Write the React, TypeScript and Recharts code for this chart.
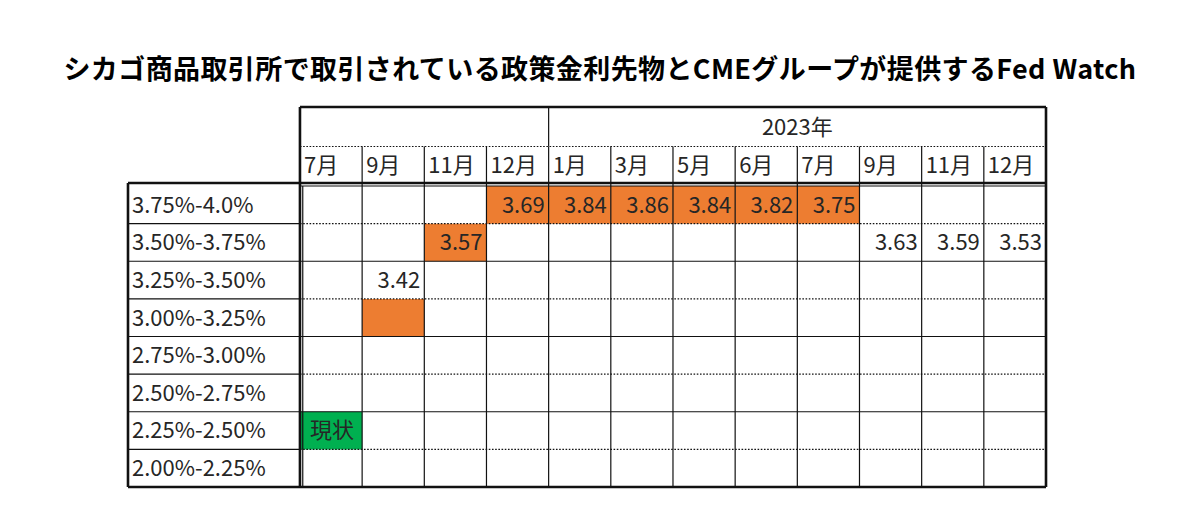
import { ScatterChart, Scatter, XAxis, YAxis, ReferenceArea, ReferenceLine } from "recharts";

const TITLE = "シカゴ商品取引所で取引されている政策金利先物とCMEグループが提供するFed Watch";
const YEAR_LABEL = "2023年";
const MONTHS = ["7月", "9月", "11月", "12月", "1月", "3月", "5月", "6月", "7月", "9月", "11月", "12月"];
const RANGES = [
  "3.75%-4.0%", "3.50%-3.75%", "3.25%-3.50%", "3.00%-3.25%",
  "2.75%-3.00%", "2.50%-2.75%", "2.25%-2.50%", "2.00%-2.25%",
];
// 各限月の予想金利と、その値が入っている行（RANGES の添字）
const RATES: (number | null)[] = [null, 3.42, 3.57, 3.69, 3.84, 3.86, 3.84, 3.82, 3.75, 3.63, 3.59, 3.53];
const RATE_ROWS: (number | null)[] = [null, 2, 1, 0, 0, 0, 0, 0, 0, 1, 1, 1];
// [row, col]
const ORANGE_CELLS: [number, number][] = [[0, 3], [0, 4], [0, 5], [0, 6], [0, 7], [0, 8], [1, 2], [3, 1]];
const CURRENT_CELL: [number, number] = [6, 0];
const CURRENT_LABEL = "現状";
const YEAR_START_COL = 4;

// layout (column / row units)
const LABEL_W = 2.766;
const HEAD_TOP = -2.1;
const MONTH_TOP = -1.05;
const HEAD_BOTTOM = -0.08;
const NCOL = MONTHS.length;
const NROW = RANGES.length;

const FONT = "'Noto Sans CJK JP', 'Noto Sans', sans-serif";
const TXT = "#262626";
const ORANGE = "#ED7D31";
const GREEN = "#00B050";

const hline = (k: string, y: number, x1: number, x2: number, w: number, dotted = false) => (
  <ReferenceLine key={k} segment={[{ x: x1, y }, { x: x2, y }]} stroke="#111" strokeWidth={w}
    strokeDasharray={dotted ? "1.6 1.6" : undefined} ifOverflow="visible" />
);
const vline = (k: string, x: number, y1: number, y2: number, w: number) => (
  <ReferenceLine key={k} segment={[{ x, y: y1 }, { x, y: y2 }]} stroke="#111" strokeWidth={w} ifOverflow="visible" />
);

const textShape = (anchor: "start" | "end" | "middle", dx: number) => (p: any) => (
  <text x={p.cx + dx} y={p.cy} dy="0.36em" textAnchor={anchor} fontFamily={FONT} fontSize={22} fill={TXT}>
    {p.payload.label}
  </text>
);

export default function App() {
  const monthData = MONTHS.map((m, i) => ({ x: i, y: (MONTH_TOP + HEAD_BOTTOM) / 2, label: m }));
  const rangeData = RANGES.map((r, i) => ({ x: -LABEL_W, y: i + 0.5, label: r }));
  const rateData = RATES.flatMap((v, i) =>
    v == null || RATE_ROWS[i] == null ? [] : [{ x: i + 1, y: (RATE_ROWS[i] as number) + 0.5, label: v.toFixed(2) }]);
  const yearData = [{ x: (YEAR_START_COL + NCOL) / 2, y: (HEAD_TOP + MONTH_TOP) / 2, label: YEAR_LABEL }];
  const currentData = [{ x: CURRENT_CELL[1], y: CURRENT_CELL[0] + 0.5, label: CURRENT_LABEL }];

  const lines = [];
  // data rows: alternate dotted / solid
  for (let r = 1; r < NROW; r++) lines.push(hline(`r${r}`, r, 0, NCOL, 1.2, r % 2 === 1));
  for (let r = 1; r < NROW; r++) lines.push(hline(`l${r}`, r, -LABEL_W, 0, 1.2));
  for (let c = 1; c < NCOL; c++) lines.push(vline(`c${c}`, c, MONTH_TOP, NROW, 1.2));
  lines.push(vline("year", YEAR_START_COL, HEAD_TOP, MONTH_TOP, 1.2));
  lines.push(hline("month", MONTH_TOP, 0, NCOL, 1.2, true));
  lines.push(hline("dataTop", 0, 0, NCOL, 1.2));
  lines.push(vline("dataLeft", 0.045, 0, NROW, 1.2));
  // outer frames
  lines.push(hline("top", HEAD_TOP, 0, NCOL, 2.6));
  lines.push(hline("headBottom", HEAD_BOTTOM, -LABEL_W, NCOL, 2.6));
  lines.push(hline("bottom", NROW, -LABEL_W, NCOL, 2.6));
  lines.push(vline("left", -LABEL_W, HEAD_BOTTOM, NROW, 2.6));
  lines.push(vline("mid", 0, HEAD_TOP, NROW, 2.6));
  lines.push(vline("right", NCOL, HEAD_TOP, NROW, 2.6));

  return (
    <div style={{ position: "absolute", left: 0, top: 0, width: 1200, height: 530, background: "#fff" }}>
      <div style={{
        position: "absolute", left: 0, top: 53, width: 1200, textAlign: "center", fontFamily: FONT,
        fontWeight: 700, fontSize: 27, letterSpacing: 0.4, lineHeight: "30px", color: "#000",
      }}>{TITLE}</div>
      <ScatterChart width={1200} height={530} margin={{ top: 107, right: 154, bottom: 43, left: 128 }}>
        <XAxis type="number" dataKey="x" domain={[-LABEL_W, NCOL]} allowDataOverflow hide />
        <YAxis type="number" dataKey="y" domain={[HEAD_TOP, NROW]} allowDataOverflow reversed hide />
        {ORANGE_CELLS.map(([r, c]) => (
          <ReferenceArea key={`o${r}-${c}`} x1={c} x2={c + 1} y1={r} y2={r + 1} fill={ORANGE} fillOpacity={1}
            stroke="none" ifOverflow="visible" />
        ))}
        <ReferenceArea x1={CURRENT_CELL[1]} x2={CURRENT_CELL[1] + 1} y1={CURRENT_CELL[0]} y2={CURRENT_CELL[0] + 1}
          fill={GREEN} fillOpacity={1} stroke="none" ifOverflow="visible" />
        {lines}
        <Scatter data={monthData} shape={textShape("start", 4)} isAnimationActive={false} />
        <Scatter data={rangeData} shape={textShape("start", 4)} isAnimationActive={false} />
        <Scatter data={rateData} shape={textShape("end", -4)} isAnimationActive={false} />
        <Scatter data={yearData} shape={textShape("middle", 0)} isAnimationActive={false} />
        <Scatter data={currentData} shape={textShape("start", 10)} isAnimationActive={false} />
      </ScatterChart>
    </div>
  );
}
